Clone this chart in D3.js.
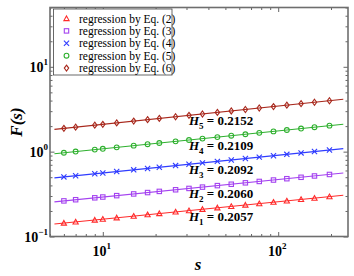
<!DOCTYPE html>
<html>
<head>
<meta charset="utf-8">
<script src="https://cdn.jsdelivr.net/npm/d3@7"></script>
<style>
  body { margin: 0; background: #fff; }
  text { font-family: "Liberation Serif", "DejaVu Serif", serif; }
</style>
</head>
<body>
<svg id="chart" width="354" height="276"></svg>
<script>
// scale values s
var scales = [6, 7, 9, 10, 12, 15, 18, 21, 26, 31, 37, 45, 54, 65, 78, 94, 112, 135, 161, 196];

// F(s) per equation
var eq2 = [0.144, 0.1486, 0.1565, 0.1599, 0.1661, 0.1739, 0.1805, 0.1863, 0.1947, 0.2019, 0.2093, 0.2179, 0.2263, 0.2351, 0.2441, 0.2536, 0.2629, 0.2732, 0.2833, 0.2950];
var eq3 = [0.2628, 0.2713, 0.2857, 0.2919, 0.3031, 0.3174, 0.3295, 0.3401, 0.3554, 0.3685, 0.3821, 0.3978, 0.4130, 0.4291, 0.4455, 0.4629, 0.4799, 0.4987, 0.5170, 0.5384];
var eq4 = [0.5039, 0.5204, 0.5485, 0.5608, 0.5825, 0.6104, 0.6342, 0.6549, 0.6849, 0.7105, 0.7373, 0.7681, 0.7980, 0.8296, 0.8618, 0.8961, 0.9296, 0.9666, 1.0029, 1.0450];
var eq5 = [0.9704, 1.0024, 1.0570, 1.0807, 1.1231, 1.1773, 1.2234, 1.2639, 1.3221, 1.3720, 1.4242, 1.4842, 1.5424, 1.6038, 1.6668, 1.7337, 1.7989, 1.8711, 1.9419, 2.0241];
var eq6 = [1.881, 1.944, 2.052, 2.099, 2.183, 2.291, 2.382, 2.463, 2.579, 2.678, 2.782, 2.902, 3.018, 3.141, 3.267, 3.400, 3.531, 3.675, 3.818, 3.982];

// regression line ends
var fitS = [5.3, 235];
var fit2 = [0.1404, 0.3062];
var fit3 = [0.2562, 0.5592];
var fit4 = [0.4910, 1.0855];
var fit5 = [0.9453, 2.1032];
var fit6 = [1.8311, 4.1413];

var hurst = ["0.2057", "0.2060", "0.2092", "0.2109", "0.2152"];
var legendNames = ["regression by Eq. (2)", "regression by Eq. (3)", "regression by Eq. (4)", "regression by Eq. (5)", "regression by Eq. (6)"];

var xMajor = [10, 100];
var yMajor = [0.1, 1, 10];

var series = [
  {vals: eq2, fit: fit2, color: "#ff2a2a", shape: "tri"},
  {vals: eq3, fit: fit3, color: "#a442f0", shape: "sq"},
  {vals: eq4, fit: fit4, color: "#2f3cff", shape: "x"},
  {vals: eq5, fit: fit5, color: "#2eb02e", shape: "circ"},
  {vals: eq6, fit: fit6, color: "#a8281c", shape: "dia"}
];

var svg = d3.select("#chart");
var L = 50, R = 348, T = 7.5, B = 236.5;

var x = d3.scaleLog().domain([5, 250]).range([L, R]);
var y = d3.scaleLog().domain([0.1, 50]).range([B, T]);

function minors(lo, hi) {
  var out = [];
  for (var d = Math.pow(10, Math.floor(Math.log10(lo))); d <= hi; d *= 10)
    for (var k = 1; k < 10; k++) {
      var v = +(k * d).toPrecision(3);
      if (v >= lo && v <= hi && k != 1) out.push(v);
    }
  return out;
}
var xMinor = minors(5, 250), yMinor = minors(0.1, 50);

var tickColor = "#666";
function drawAxis(axis, tx, ty, vals, len) {
  var g = svg.append("g").attr("transform", "translate(" + tx + "," + ty + ")")
    .call(axis.tickValues(vals).tickSize(-len).tickFormat(""));
  g.select(".domain").remove();
  g.selectAll("line").attr("stroke", tickColor).attr("stroke-width", 1);
}
drawAxis(d3.axisBottom(x), 0, B, xMinor, 2.5);
drawAxis(d3.axisBottom(x), 0, B, xMajor, 4.5);
drawAxis(d3.axisTop(x), 0, T, xMinor, 2.5);
drawAxis(d3.axisTop(x), 0, T, xMajor, 4.5);
drawAxis(d3.axisLeft(y), L, 0, yMinor, 2.5);
drawAxis(d3.axisLeft(y), L, 0, yMajor, 4.5);
drawAxis(d3.axisRight(y), R, 0, yMinor, 2.5);
drawAxis(d3.axisRight(y), R, 0, yMajor, 4.5);

svg.append("rect").attr("x", L).attr("y", T).attr("width", R - L).attr("height", B - T)
  .attr("fill", "none").attr("stroke", "#6e6e6e").attr("stroke-width", 1.6);

// tick labels
xMajor.forEach(function(v) {
  var t = svg.append("text").attr("x", x(v) - 1).attr("y", 256).attr("text-anchor", "middle")
    .attr("font-size", 14).attr("font-weight", "bold");
  t.append("tspan").text("10");
  t.append("tspan").attr("dy", -7).attr("font-size", 9).text(Math.round(Math.log10(v)));
});
yMajor.forEach(function(v) {
  var t = svg.append("text").attr("x", 48).attr("y", y(v) + 5).attr("text-anchor", "end")
    .attr("font-size", 14).attr("font-weight", "bold");
  t.append("tspan").text("10");
  t.append("tspan").attr("dy", -7).attr("font-size", 9).text(Math.round(Math.log10(v)) < 0 ? "\u22121" : Math.round(Math.log10(v)));
});

// axis titles
svg.append("text").attr("transform", "translate(22,122) rotate(-90)").attr("text-anchor", "middle")
  .attr("font-size", 17).attr("font-weight", "bold").attr("font-style", "italic").text("F(s)");
svg.append("text").attr("x", 198).attr("y", 270).attr("text-anchor", "middle")
  .attr("font-size", 17).attr("font-weight", "bold").attr("font-style", "italic").text("s");

var line = d3.line().x(function(d) { return x(d[0]); }).y(function(d) { return y(d[1]); });

function marker(g, shape, color, cx, cy) {
  var s = 2.6;
  if (shape == "tri")
    g.append("path").attr("d", "M" + cx + "," + (cy - s) + "L" + (cx + s) + "," + (cy + s * 0.8) + "L" + (cx - s) + "," + (cy + s * 0.8) + "Z");
  else if (shape == "sq")
    g.append("rect").attr("x", cx - 2.2).attr("y", cy - 2.2).attr("width", 4.4).attr("height", 4.4);
  else if (shape == "x")
    g.append("path").attr("d", "M" + (cx - s) + "," + (cy - s) + "L" + (cx + s) + "," + (cy + s) + "M" + (cx - s) + "," + (cy + s) + "L" + (cx + s) + "," + (cy - s));
  else if (shape == "circ")
    g.append("circle").attr("cx", cx).attr("cy", cy).attr("r", 2.4);
  else
    g.append("path").attr("d", "M" + cx + "," + (cy - 3) + "L" + (cx + 2.2) + "," + cy + "L" + cx + "," + (cy + 3) + "L" + (cx - 2.2) + "," + cy + "Z");
  g.selectAll("*").attr("fill", "none").attr("stroke", color).attr("stroke-width", 1.1);
}

series.forEach(function(sr, i) {
  svg.append("path").datum(d3.zip(fitS, sr.fit)).attr("d", line)
    .attr("fill", "none").attr("stroke", sr.color).attr("stroke-width", 1.1);
  var g = svg.append("g");
  scales.forEach(function(s, j) {
    var mg = g.append("g");
    marker(mg, sr.shape, sr.color, x(s), y(sr.vals[j]));
  });
  // H label under line
  var t = svg.append("text").attr("x", x(31)).attr("y", y(sr.vals[9]) + 10)
    .attr("font-size", 13).attr("font-weight", "bold");
  t.append("tspan").attr("font-style", "italic").text("H");
  t.append("tspan").attr("dy", 4).attr("font-size", 9).text(i + 1);
  t.append("tspan").attr("dy", -4).text(" = " + hurst[i]);
});

// legend
var lg = svg.append("g");
lg.append("rect").attr("x", 53.5).attr("y", 9).attr("width", 118.5).attr("height", 66)
  .attr("fill", "#fff").attr("stroke", "#444").attr("stroke-width", 0.8);
series.forEach(function(sr, i) {
  var yy = 18.5 + i * 12.4;
  marker(lg.append("g"), sr.shape, sr.color, 66.5, yy);
  lg.append("text").attr("x", 79).attr("y", yy + 4).attr("font-size", 11.5).text(legendNames[i]);
});
</script>
</body>
</html>
